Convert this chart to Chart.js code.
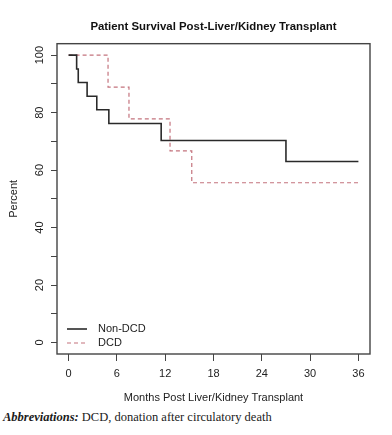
<!DOCTYPE html>
<html>
<head>
<meta charset="utf-8">
<script src="https://cdn.jsdelivr.net/npm/chart.js@4"></script>
<style>
    html, body { margin: 0; padding: 0; background: #fff; }
    #wrap { position: relative; width: 392px; height: 435px; }
    #nota { position: absolute; left: 3px; top: 410px; font-family: "Liberation Serif", serif; font-size: 12.5px; color: #1a1a1a; white-space: nowrap; }
</style>
</head>
<body>
<div id="wrap">
    <canvas id="grafica" width="392" height="405"></canvas>
    <div id="nota"><b><i>Abbreviations:</i></b> DCD, donation after circulatory death</div>
</div>
<script>
// Datos
const mesesNoDcd = [0, 1.0, 1.2, 2.3, 3.5, 5.0, 11.5, 27.0, 36]
const sobrevNoDcd = [100, 95.2, 90.5, 85.7, 81.0, 76.2, 70.3, 63.0, 63.0]
const mesesDcd = [0, 4.9, 7.5, 12.6, 15.3, 36]
const sobrevDcd = [100, 88.9, 77.8, 66.7, 55.6, 55.6]
const ticksX = [0, 6, 12, 18, 24, 30, 36]
const ticksY = [0, 10, 20, 30, 40, 50, 60, 70, 80, 90, 100]
const etiquetasY = [0, 20, 40, 60, 80, 100]
const series = ["Non-DCD", "DCD"]

const fuente = "'Liberation Sans', Arial, sans-serif"

// Funciones
const puntos = (xs, ys) => xs.map((x, i) => ({ x: x, y: ys[i] }))

// caja alrededor del area y leyenda dentro de ella
const cajaYLeyenda = {
    id: "cajaYLeyenda",
    afterDatasetsDraw(chart) {
        const { ctx, chartArea: a } = chart
        ctx.save()
        ctx.strokeStyle = "#444"
        ctx.lineWidth = 1.4
        ctx.strokeRect(a.left, a.top, a.right - a.left, a.bottom - a.top)

        ctx.font = "11px " + fuente
        ctx.textBaseline = "middle"
        chart.data.datasets.forEach((ds, i) => {
            const y = a.bottom - 25 + i * 14
            ctx.strokeStyle = ds.borderColor
            ctx.lineWidth = ds.borderWidth
            ctx.setLineDash(ds.borderDash || [])
            ctx.beginPath()
            ctx.moveTo(a.left + 10, y)
            ctx.lineTo(a.left + 30, y)
            ctx.stroke()
            ctx.setLineDash([])
            ctx.fillStyle = "#222"
            ctx.fillText(ds.label, a.left + 41, y)
        })
        ctx.restore()
    }
}

function configurarGrafica() {
    return {
        type: "line",
        data: {
            datasets: [{
                label: series[0],
                data: puntos(mesesNoDcd, sobrevNoDcd),
                borderColor: "#2a2a2a",
                borderWidth: 1.6,
                stepped: true,
                pointRadius: 0,
                fill: false
            }, {
                label: series[1],
                data: puntos(mesesDcd, sobrevDcd),
                borderColor: "#c4737d",
                borderWidth: 1.2,
                borderDash: [4, 3],
                stepped: true,
                pointRadius: 0,
                fill: false
            }]
        },
        options: {
            responsive: false,
            animation: false,
            layout: { padding: { left: 0, right: 22, top: 0, bottom: 0 } },
            plugins: {
                legend: { display: false },
                tooltip: { enabled: false },
                title: {
                    display: true,
                    fullSize: false,
                    text: "Patient Survival Post-Liver/Kidney Transplant",
                    color: "#111",
                    font: { family: fuente, size: 11.4, weight: "bold" },
                    padding: { top: 20, bottom: 10 }
                }
            },
            scales: {
                x: {
                    type: "linear",
                    min: -1.44,
                    max: 37.44,
                    afterBuildTicks: s => { s.ticks = ticksX.map(v => ({ value: v })) },
                    afterFit: s => { s.height = 51 },
                    grid: { drawOnChartArea: false, drawTicks: true, tickLength: 7, tickColor: "#444" },
                    border: { display: false },
                    ticks: { autoSkip: false, maxRotation: 0, padding: 6, color: "#222", font: { family: fuente, size: 11 } },
                    title: {
                        display: true,
                        text: "Months Post Liver/Kidney Transplant",
                        color: "#222",
                        font: { family: fuente, size: 11 },
                        padding: { top: 0, bottom: 0 }
                    }
                },
                y: {
                    type: "linear",
                    min: -4,
                    max: 104,
                    afterBuildTicks: s => { s.ticks = ticksY.map(v => ({ value: v })) },
                    afterFit: s => { s.width = 57 },
                    grid: { drawOnChartArea: false, drawTicks: true, tickLength: 6, tickColor: "#444" },
                    border: { display: false },
                    ticks: {
                        autoSkip: false,
                        minRotation: 90,
                        maxRotation: 90,
                        crossAlign: "center",
                        padding: 2,
                        color: "#222",
                        font: { family: fuente, size: 11 },
                        callback: v => etiquetasY.includes(v) ? String(v) : ""
                    },
                    title: {
                        display: true,
                        text: "Percent",
                        color: "#222",
                        font: { family: fuente, size: 11 },
                        padding: { top: 7.5, bottom: 0 }
                    }
                }
            }
        },
        plugins: [cajaYLeyenda]
    }
}

function renderGrafica() {
    const chartDOM = document.querySelector("#grafica").getContext("2d")
    new Chart(chartDOM, configurarGrafica())
}

renderGrafica()
</script>
</body>
</html>
